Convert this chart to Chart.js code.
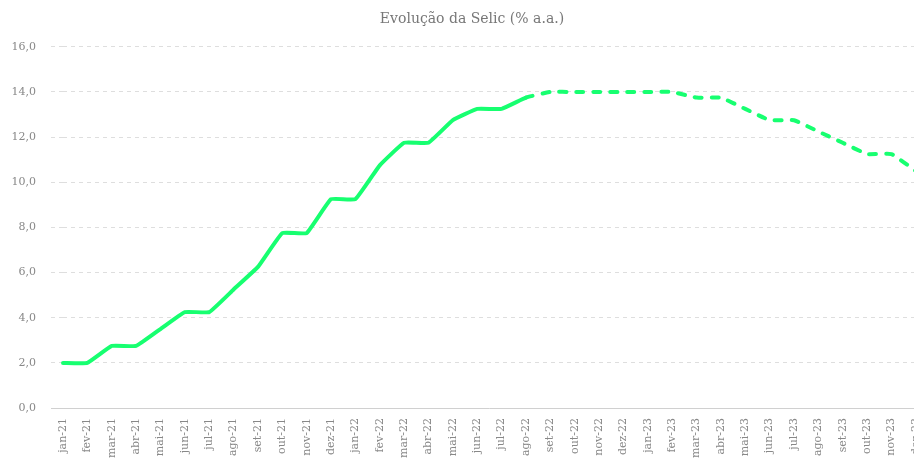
<!DOCTYPE html>
<html>
<head>
<meta charset="utf-8">
<script src="https://cdn.jsdelivr.net/npm/chart.js@4.4.0/dist/chart.umd.min.js"></script>
<style>
html, body { margin: 0; padding: 0; overflow: hidden; background: #fff; width: 914px; height: 461px; }
canvas { display: block; position: absolute; left: 0; top: 0; }
</style>
</head>
<body>
<canvas id="c" width="939" height="478"></canvas>
<script>
const months = [
  'jan-21','fev-21','mar-21','abr-21','mai-21','jun-21','jul-21','ago-21','set-21','out-21','nov-21','dez-21',
  'jan-22','fev-22','mar-22','abr-22','mai-22','jun-22','jul-22','ago-22','set-22','out-22','nov-22','dez-22',
  'jan-23','fev-23','mar-23','abr-23','mai-23','jun-23','jul-23','ago-23','set-23','out-23','nov-23','dez-23'
];
const selic = [
  2.00, 2.00, 2.75, 2.75, 3.50, 4.25, 4.25, 5.25, 6.25, 7.75, 7.75, 9.25,
  9.25, 10.75, 11.75, 11.75, 12.75, 13.25, 13.25, 13.75, 14.00, 14.00, 14.00, 14.00,
  14.00, 14.00, 13.75, 13.75, 13.25, 12.75, 12.75, 12.25, 11.75, 11.25, 11.25, 10.50
];
const projectionFrom = 19; // segments starting at ago-22 are projections (dashed)
const chartTitle = 'Evolução da Selic (% a.a.)';
const yMin = 0, yMax = 16, yStep = 2;

const FONT = "'DejaVu Serif', serif";
const lineColor = '#17ff70';

new Chart(document.getElementById('c'), {
  type: 'line',
  data: {
    labels: months,
    datasets: [{
      data: selic,
      borderColor: lineColor,
      backgroundColor: lineColor,
      borderWidth: 4,
      pointRadius: 0,
      pointHoverRadius: 0,
      tension: 0.1,
      borderCapStyle: 'round',
      borderJoinStyle: 'round',
      fill: false,
      segment: {
        borderDash: ctx => ctx.p0DataIndex >= projectionFrom ? [7, 10] : undefined
      }
    }]
  },
  options: {
    responsive: false,
    animation: false,
    layout: { padding: { left: 5, right: 0, top: 0, bottom: 10 } },
    plugins: {
      legend: { display: false },
      tooltip: { enabled: false },
      title: {
        display: true,
        text: chartTitle,
        color: '#777',
        font: { family: FONT, size: 14, weight: 'normal' },
        padding: { top: 11, bottom: 19 }
      }
    },
    scales: {
      x: {
        grid: { display: false, drawTicks: false },
        border: { display: false },
        ticks: {
          color: '#888',
          font: { family: FONT, size: 11 },
          minRotation: 90,
          maxRotation: 90,
          autoSkip: false,
          padding: 10
        }
      },
      y: {
        min: yMin,
        max: yMax,
        afterFit: scale => { scale.width = 58; },
        grid: {
          color: ctx => ctx.tick && ctx.tick.value === 0 ? '#d0d0d0' : '#dedede',
          lineWidth: 1,
          drawTicks: true,
          tickLength: 12,
          tickBorderDash: ctx => ctx.tick && ctx.tick.value === 0 ? [] : [4, 4]
        },
        border: {
          display: false,
          dash: ctx => ctx.tick && ctx.tick.value === 0 ? [] : [4, 4]
        },
        ticks: {
          stepSize: yStep,
          color: '#888',
          font: { family: FONT, size: 11 },
          padding: 15,
          callback: v => v.toFixed(1).replace('.', ',')
        }
      }
    }
  }
});
</script>
</body>
</html>
